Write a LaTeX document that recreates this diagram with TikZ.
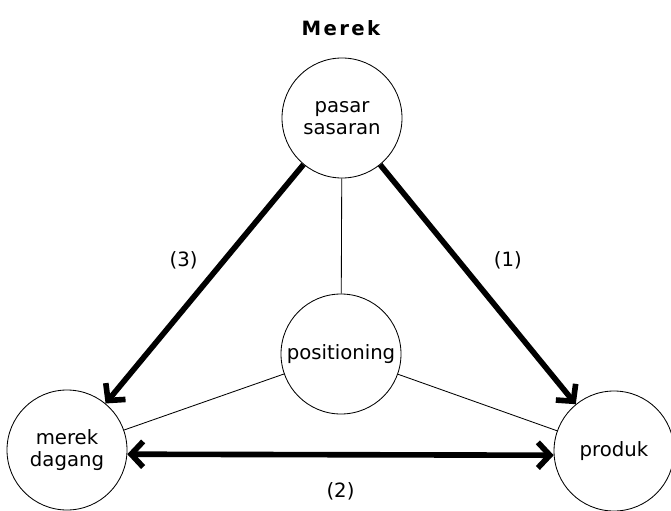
\documentclass[tikz,border=0pt]{standalone}
\usepackage{fontspec}
\setmainfont{DejaVu Sans}
\usepackage{tikz}
\usetikzlibrary{arrows.meta}

\begin{document}
\begin{tikzpicture}[
	font = \fontsize{14}{16}\selectfont,
	ring/.style = {circle, draw, line width = .6pt, minimum size = 3cm, inner sep = 0pt, align = center},
	thin/.style = {line width = .6pt},
	barb/.tip = {Straight Barb[length = 3mm, width = 6.4mm]},
	heavy/.style = {line width = 4pt, -barb}
]
	\useasboundingbox (0,0) rectangle (16.775,12.75);
	\node (title) at (8.525,12.05) {\addfontfeature{LetterSpace = 12}\bfseries Merek};
	\node [ring] (pasar) at (8.55,9.8) {pasar\\sasaran};
	\node [ring] (pos) at (8.525,3.9) {positioning};
	\node [ring] (merek) at (1.675,1.5) {merek\\dagang};
	\node [ring] (produk) at (15.35,1.475) {produk};
	\draw [thin] (pos) -- (pasar);
	\draw [thin] (pos) -- (merek);
	\draw [thin] (pos) -- (produk);
	\draw [heavy] (pasar) -- (merek) node [pos = .4, left = 4.8mm] (n3) {(3)};
	\draw [heavy] (pasar) -- (produk) node [pos = .4, right = 7mm] (n1) {(1)};
	\draw [heavy, barb-barb] (merek.-4) -- (produk.184) node [pos = .5, below = 5mm] (n2) {(2)};
\end{tikzpicture}
\end{document}
